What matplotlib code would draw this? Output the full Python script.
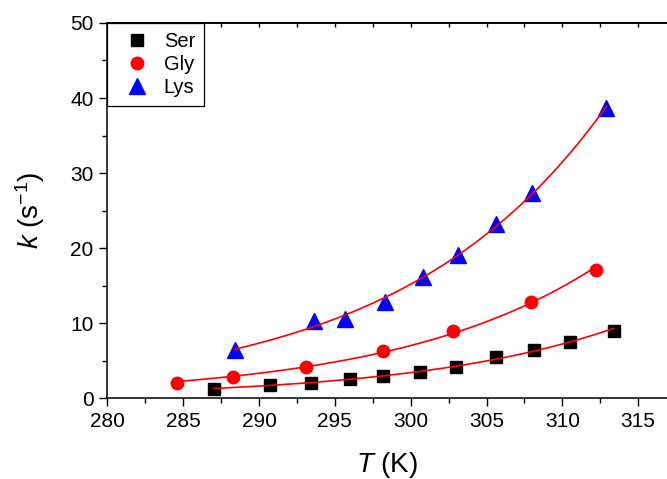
import numpy as np
import matplotlib
matplotlib.use("Agg")
import matplotlib.pyplot as plt
from matplotlib.ticker import MultipleLocator

plt.rcParams['font.family'] = ['Liberation Sans', 'DejaVu Sans']
plt.rcParams['mathtext.fontset'] = 'custom'
plt.rcParams['mathtext.it'] = 'Liberation Sans:italic'
plt.rcParams['mathtext.rm'] = 'Liberation Sans'

# data
ser_T = [287.0, 290.7, 293.4, 296.0, 298.2, 300.6, 303.0, 305.6, 308.1, 310.5, 313.4]
ser_k = [1.2, 1.7, 2.05, 2.5, 2.95, 3.5, 4.2, 5.5, 6.4, 7.5, 9.0]
gly_T = [284.6, 288.3, 293.1, 298.2, 302.8, 307.9, 312.2]
gly_k = [2.0, 2.85, 4.2, 6.3, 8.9, 12.85, 17.05]
lys_T = [288.4, 293.6, 295.7, 298.3, 300.8, 303.1, 305.6, 308.0, 312.9]
lys_k = [6.4, 10.3, 10.6, 12.85, 16.1, 19.05, 23.15, 27.35, 38.7]

fig = plt.figure(figsize=(6.67, 4.79), dpi=100)
ax = fig.add_axes([0.161, 0.169, 0.839, 0.783])

series = [
    (ser_T, ser_k, 's', 8, 'black', 'Ser'),
    (gly_T, gly_k, 'o', 9, 'red', 'Gly'),
    (lys_T, lys_k, '^', 11, 'blue', 'Lys'),
]
for T, k, m, ms, c, lab in series:
    T = np.array(T)
    k = np.array(k)
    # exponential fit, drawn over the data range
    b, a = np.polyfit(T, np.log(k), 1, w=np.sqrt(k))
    tt = np.linspace(T.min(), T.max(), 200)
    ax.plot(tt, np.exp(a + b * tt), color='red', lw=1.2, zorder=3)
    ax.plot(T, k, m, ms=ms, color=c, mec=c, ls='none', label=lab, zorder=2)

ax.set_xlim(280, 316.9)
ax.set_ylim(0, 50)
ax.xaxis.set_major_locator(MultipleLocator(5))
ax.xaxis.set_minor_locator(MultipleLocator(2.5))
ax.yaxis.set_major_locator(MultipleLocator(10))
ax.yaxis.set_minor_locator(MultipleLocator(5))
ax.tick_params(which='major', direction='out', length=6, width=1, labelsize=15, pad=4)
ax.tick_params(which='minor', direction='out', length=3.5, width=1)
ax.spines['right'].set_visible(False)
for s in ['left', 'bottom', 'top']:
    ax.spines[s].set_linewidth(1.1)

top = ax.secondary_xaxis('top')
top.xaxis.set_major_locator(MultipleLocator(5))
top.xaxis.set_minor_locator(MultipleLocator(2.5))
top.tick_params(which='both', direction='in', length=3, width=1, labeltop=False)
top.spines['top'].set_linewidth(1.1)

ax.set_xlabel(r'$\it{T}$ (K)', fontsize=20, labelpad=14)
ax.set_ylabel(r'$\it{k}$ (s$^{\mathregular{-1}}$)', fontsize=20, labelpad=17)

leg = ax.legend(loc='upper left', borderaxespad=0, fancybox=False, edgecolor='black',
                framealpha=1, fontsize=14.5, handletextpad=0.35, borderpad=0.45,
                labelspacing=0.2, handlelength=2.0)
leg.get_frame().set_linewidth(0.9)

fig.savefig('out.png', dpi=100)
